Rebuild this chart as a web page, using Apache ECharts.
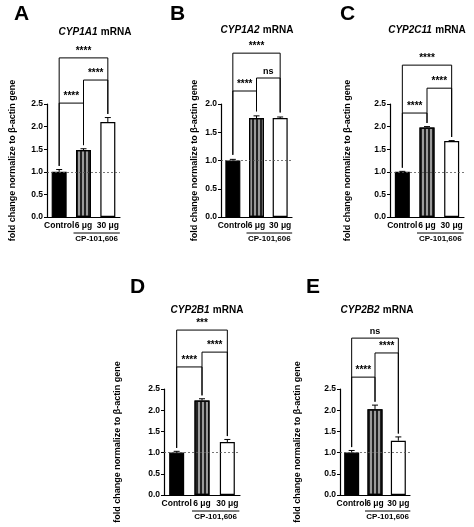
<!DOCTYPE html>
<html>
<head>
<meta charset="utf-8">
<script src="https://cdn.jsdelivr.net/npm/echarts@6/dist/echarts.min.js"></script>
<style>html,body{margin:0;padding:0;background:#fff}#main{width:474px;height:527px}</style>
</head>
<body>
<div id="main"></div>
<script>
// categories and values
var categories = ['Control', '6 μg', '30 μg'];
var panelLetters = ['A', 'B', 'C', 'D', 'E'];
var geneNames = ['CYP1A1', 'CYP1A2', 'CYP2C11', 'CYP2B1', 'CYP2B2'];
var meanA = [1.0, 1.48, 2.1],   errA = [0.05, 0.03, 0.1];
var meanB = [1.0, 1.75, 1.75],  errB = [0.02, 0.04, 0.02];
var meanC = [1.0, 1.98, 1.68],  errC = [0.01, 0.02, 0.01];
var meanD = [1.0, 2.23, 1.25],  errD = [0.03, 0.04, 0.06];
var meanE = [1.0, 2.02, 1.28],  errE = [0.05, 0.1, 0.09];
var yMaxList = [2.5, 2.0, 2.5, 2.5, 2.5];
// significance brackets: [from, to, level, label]
var sigA = [[0, 1, 2.52, '****'], [1, 2, 3.03, '****'], [0, 2, 3.52, '****']];
var sigB = [[0, 1, 2.23, '****'], [1, 2, 2.46, 'ns'], [0, 2, 2.9, '****']];
var sigC = [[0, 1, 2.3, '****'], [1, 2, 2.85, '****'], [0, 2, 3.36, '****']];
var sigD = [[0, 1, 3.02, '****'], [1, 2, 3.37, '****'], [0, 2, 3.89, '***']];
var sigE = [[0, 1, 2.78, '****'], [1, 2, 3.35, '****'], [0, 2, 3.7, 'ns']];

var means = [meanA, meanB, meanC, meanD, meanE];
var errs = [errA, errB, errC, errD, errE];
var sigs = [sigA, sigB, sigC, sigD, sigE];

// layout
var grids = [
  {left: 47, top: 104, width: 73, height: 113},
  {left: 221, top: 104, width: 71, height: 113},
  {left: 390, top: 104, width: 74, height: 113},
  {left: 164, top: 389, width: 76, height: 106},
  {left: 340, top: 389, width: 70, height: 106}
];
var nameGaps = [30, 22, 38, 42, 38];
var letterPos = [[14, 4], [170, 4], [340, 4], [130, 277], [306, 277]];
var titleX = [95, 257, 427, 207, 377];
var titleY = [32, 30, 30, 310, 310];

var FONT = 'Liberation Sans, Arial, sans-serif';
var chart = echarts.init(document.getElementById('main'));

var barStyles = [
  {color: '#000', borderColor: '#000', borderWidth: 1.2},
  {color: '#9a9a9a', borderColor: '#000', borderWidth: 1.2,
    decal: {symbol: 'rect', symbolSize: 1, color: '#222', dashArrayX: [[1.5, 2]], dashArrayY: [1, 0], rotation: 0}},
  {color: '#fff', borderColor: '#000', borderWidth: 1.2}
];

var option = {
  animation: false,
  textStyle: {fontFamily: FONT},
  grid: [], xAxis: [], yAxis: [], series: [], graphic: []
};

means.forEach(function (m, p) {
  option.grid.push(Object.assign({containLabel: false}, grids[p]));
  option.xAxis.push({
    type: 'category', gridIndex: p, data: categories,
    axisLine: {lineStyle: {color: '#000', width: 1.2}},
    axisTick: {show: false},
    axisLabel: {color: '#000', fontWeight: 'bold', fontSize: 8.5, margin: 4, interval: 0}
  });
  option.yAxis.push({
    type: 'value', gridIndex: p, min: 0, max: yMaxList[p], interval: 0.5,
    name: 'fold change normalize to β-actin gene', nameLocation: 'middle', nameGap: nameGaps[p],
    nameTextStyle: {color: '#000', fontWeight: 'bold', fontSize: 9},
    axisLine: {show: true, lineStyle: {color: '#000', width: 1.2}},
    axisTick: {show: true, length: 3, lineStyle: {color: '#000'}},
    splitLine: {show: false},
    axisLabel: {color: '#000', fontWeight: 'bold', fontSize: 8.5, margin: 4,
      formatter: function (v) { return v.toFixed(1); }}
  });
  option.series.push({
    type: 'bar', xAxisIndex: p, yAxisIndex: p, barWidth: 15,
    data: m.map(function (v, i) { return {value: v, itemStyle: barStyles[i]}; }),
    markLine: {
      silent: true, symbol: 'none', label: {show: false},
      lineStyle: {color: '#555', type: [2, 2], width: 0.8},
      data: [{yAxis: 1.0}]
    }
  });
  // error bars
  option.series.push({
    type: 'custom', xAxisIndex: p, yAxisIndex: p, silent: true,
    data: m.map(function (v, i) { return [i, v, v + errs[p][i]]; }),
    renderItem: function (params, api) {
      var b = api.coord([api.value(0), api.value(1)]);
      var t = api.coord([api.value(0), api.value(2)]);
      var st = {stroke: '#000', lineWidth: 1};
      return {type: 'group', children: [
        {type: 'line', shape: {x1: b[0], y1: b[1], x2: t[0], y2: t[1]}, style: st},
        {type: 'line', shape: {x1: t[0] - 3, y1: t[1], x2: t[0] + 3, y2: t[1]}, style: st}
      ]};
    },
    z: 5
  });
  // significance brackets
  option.series.push({
    type: 'custom', xAxisIndex: p, yAxisIndex: p, silent: true, clip: false,
    data: sigs[p].map(function (s) { return [s[0], s[1], s[2]]; }),
    renderItem: function (params, api) {
      var s = sigs[p][params.dataIndex];
      var i = s[0], j = s[1];
      var a = api.coord([i, s[2]]), c = api.coord([j, s[2]]);
      var ya = api.coord([i, m[i] + errs[p][i] + 0.08])[1];
      var yc = api.coord([j, m[j] + errs[p][j] + 0.08])[1];
      var st = {stroke: '#000', lineWidth: 1, fill: null};
      return {type: 'group', children: [
        {type: 'polyline', shape: {points: [[a[0], ya], [a[0], a[1]], [c[0], c[1]], [c[0], yc]]}, style: st},
        {type: 'text', x: (a[0] + c[0]) / 2, y: a[1] - 2,
          style: {text: s[3], fill: '#000', fontSize: s[3] === 'ns' ? 9 : 10, fontWeight: 'bold',
            fontFamily: FONT, align: 'center', verticalAlign: 'bottom'}}
      ]};
    },
    z: 6
  });
  option.graphic.push({
    type: 'text', left: letterPos[p][0], top: letterPos[p][1],
    style: {text: panelLetters[p], fontSize: 21, fontWeight: 'bold', fill: '#000', fontFamily: FONT}
  });
  option.graphic.push({
    type: 'text', x: titleX[p], y: titleY[p],
    style: {text: '{g|' + geneNames[p] + '} {n|mRNA}', align: 'center', verticalAlign: 'middle',
      rich: {g: {fontStyle: 'italic', fontWeight: 'bold', fontSize: 10, fontFamily: FONT},
             n: {fontWeight: 'bold', fontSize: 10, fontFamily: FONT}}}
  });
});

chart.setOption(option);

// CP-101,606 underline below the treated groups
var extra = [];
means.forEach(function (m, p) {
  var l = chart.convertToPixel({xAxisIndex: p, yAxisIndex: p}, [1, 0]);
  var r = chart.convertToPixel({xAxisIndex: p, yAxisIndex: p}, [2, 0]);
  var y = l[1] + 16;
  extra.push({type: 'line', shape: {x1: l[0] - 10, y1: y, x2: r[0] + 12, y2: y}, style: {stroke: '#000', lineWidth: 1}});
  extra.push({type: 'text', x: (l[0] + r[0]) / 2 + 1, y: y + 2,
    style: {text: 'CP-101,606', fontSize: 8, fontWeight: 'bold', fill: '#000', fontFamily: FONT, align: 'center', verticalAlign: 'top'}});
});
chart.setOption({graphic: option.graphic.concat(extra)});
</script>
</body>
</html>
